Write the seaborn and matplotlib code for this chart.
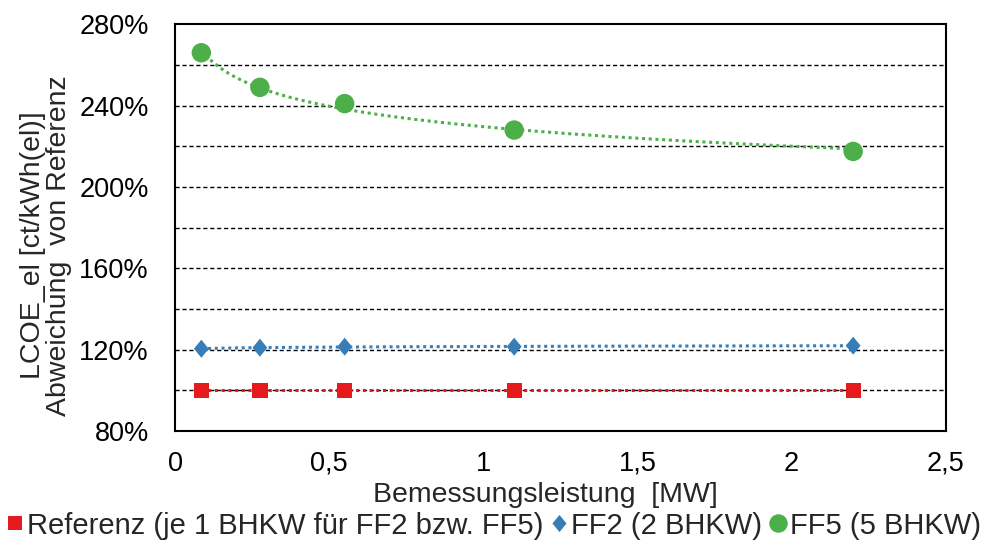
import numpy as np
import pandas as pd
import matplotlib
matplotlib.use("Agg")
import matplotlib.pyplot as plt
import seaborn as sns
from matplotlib.ticker import FuncFormatter
from matplotlib.lines import Line2D

# Bemessungsleistung [MW]
leistung = [0.085, 0.275, 0.55, 1.1, 2.2]
# relative LCOE_el (% of reference)
referenz = [100, 100, 100, 100, 100]
ff2 = [120.5, 121.0, 121.5, 121.5, 122.0]
ff5 = [266, 249, 241, 228, 217.5]

series = ["Referenz (je 1 BHKW für FF2 bzw. FF5)", "FF2 (2 BHKW)", "FF5 (5 BHKW)"]
colors = ["#E41A1C", "#377EB8", "#4DAF4A"]
diamond = [(0, 1), (0.82, 0), (0, -1), (-0.82, 0), (0, 1)]
markers = ["s", diamond, "o"]
msizes = [11, 13, 14]

df = pd.DataFrame({
    "x": leistung * 3,
    "y": referenz + ff2 + ff5,
    "serie": [series[0]] * 5 + [series[1]] * 5 + [series[2]] * 5,
})

sns.set_theme(style="white")
plt.rcParams["font.family"] = ["Liberation Sans", "DejaVu Sans"]

fig, ax = plt.subplots(figsize=(9.84, 5.52), dpi=100)
fig.subplots_adjust(left=0.178, right=0.961, top=0.956, bottom=0.219)

# gridlines
for g in range(100, 280, 20):
    ax.axhline(g, color="black", linestyle=(0, (3, 2)), linewidth=1.0, zorder=1)

# power trendlines (fitted from data, dotted)
xs = np.linspace(min(leistung), max(leistung), 200)
for i, name in enumerate(series):
    sub = df[df["serie"] == name]
    b, a = np.polyfit(np.log(sub["x"]), np.log(sub["y"]), 1)
    ax.plot(xs, np.exp(a) * xs ** b, color=colors[i], linestyle=(0, (1, 1.2)),
            linewidth=2.2, zorder=2)

for i, name in enumerate(series):
    sub = df[df["serie"] == name]
    sns.scatterplot(data=sub, x="x", y="y", ax=ax, color=colors[i], marker=markers[i],
                    s=msizes[i] ** 2, edgecolor="none", zorder=3, legend=False)

ax.set_xlim(0, 2.5)
ax.set_ylim(80, 280)
ax.set_xticks(np.arange(0, 2.51, 0.5))
ax.set_yticks(range(80, 281, 40))
ax.xaxis.set_major_formatter(FuncFormatter(lambda v, p: f"{v:g}".replace(".", ",")))
ax.yaxis.set_major_formatter(FuncFormatter(lambda v, p: f"{v:.0f}%"))
ax.tick_params(axis="both", length=0, labelsize=19.5, colors="#000000")
ax.tick_params(axis="y", pad=19)
ax.tick_params(axis="x", pad=14)
for s in ax.spines.values():
    s.set_color("black")
    s.set_linewidth(1.5)

ax.set_xlabel("Bemessungsleistung  [MW]", fontsize=20.5)
ax.xaxis.set_label_coords(0.48, -0.125)
ax.set_ylabel("LCOE_el [ct/kWh(el)]\nAbweichung  von Referenz", fontsize=20.5,
              linespacing=1.0)
ax.yaxis.set_label_coords(-0.134, 0.457)

handles = [Line2D([], [], linestyle="none", marker=markers[i], color=colors[i],
                  markersize=msizes[i] * 0.95, markeredgewidth=0) for i in range(3)]
fig.legend(handles, series, loc="lower center", bbox_to_anchor=(0.5, -0.025), ncol=3,
           frameon=False, fontsize=21, handletextpad=0.0, columnspacing=0.15,
           handlelength=0.8)

fig.savefig("out.png", dpi=100)
